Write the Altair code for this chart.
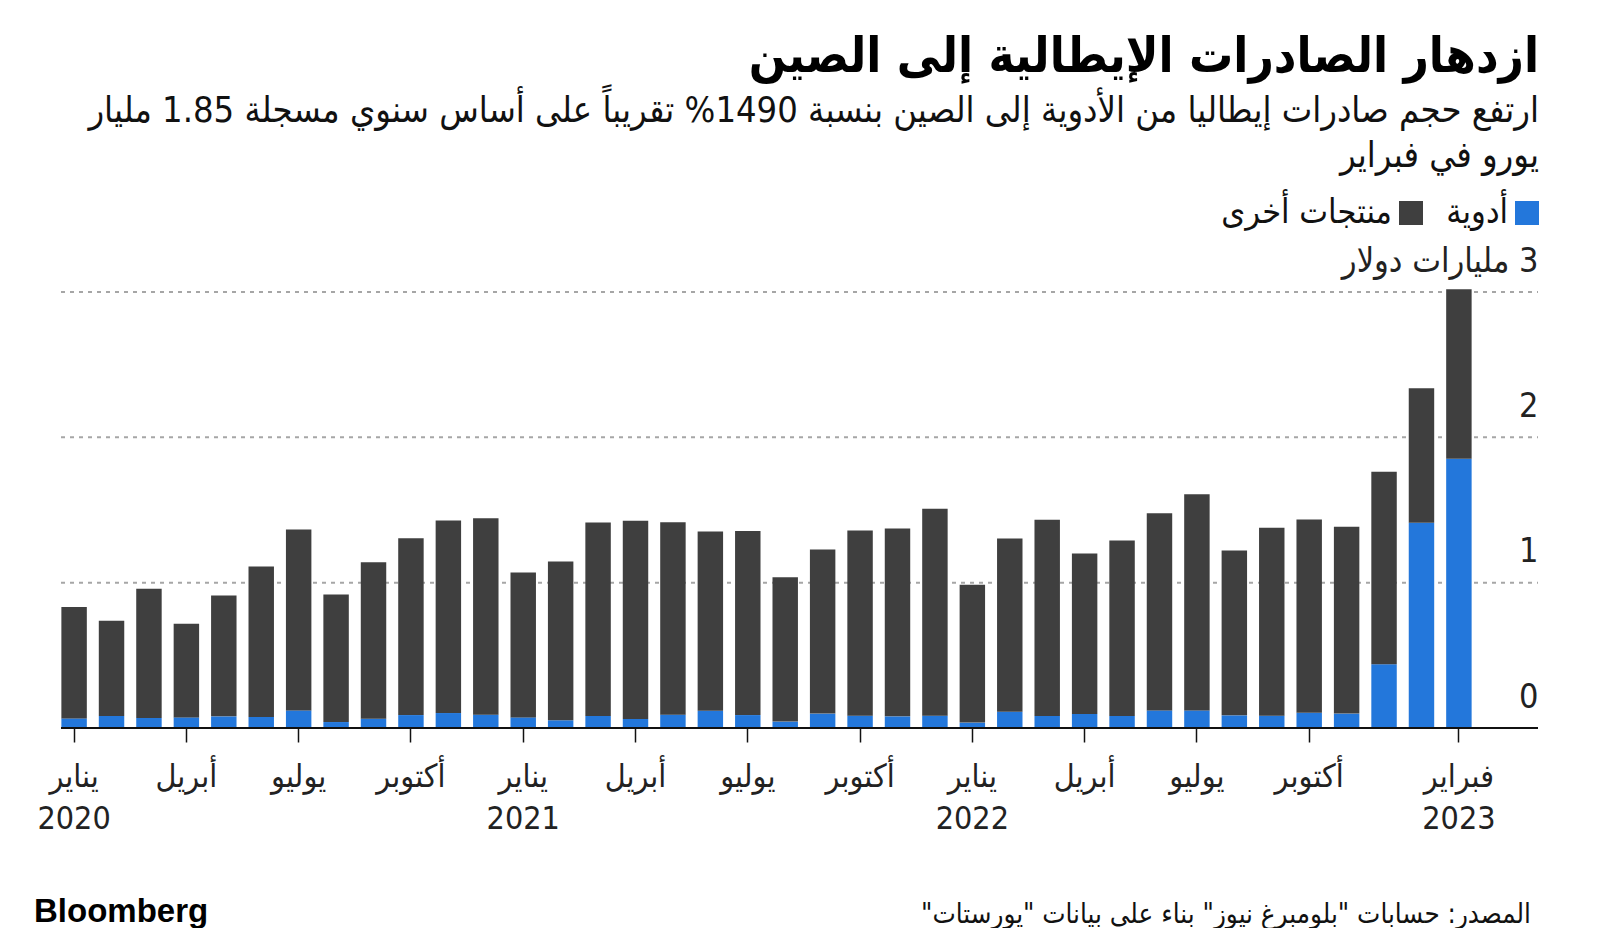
import altair as alt
import pandas as pd

months = [
    "2020-01", "2020-02", "2020-03", "2020-04", "2020-05", "2020-06",
    "2020-07", "2020-08", "2020-09", "2020-10", "2020-11", "2020-12",
    "2021-01", "2021-02", "2021-03", "2021-04", "2021-05", "2021-06",
    "2021-07", "2021-08", "2021-09", "2021-10", "2021-11", "2021-12",
    "2022-01", "2022-02", "2022-03", "2022-04", "2022-05", "2022-06",
    "2022-07", "2022-08", "2022-09", "2022-10", "2022-11", "2022-12",
    "2023-01", "2023-02",
]
medicine = [
    0.066, 0.083, 0.069, 0.073, 0.080, 0.076, 0.121, 0.041, 0.064, 0.089, 0.103, 0.092,
    0.073, 0.053, 0.083, 0.062, 0.092, 0.119, 0.089, 0.044, 0.099, 0.085, 0.080, 0.085,
    0.037, 0.112, 0.083, 0.096, 0.083, 0.121, 0.121, 0.087, 0.085, 0.105, 0.099, 0.438,
    1.412, 1.852,
]
other = [
    0.766, 0.655, 0.889, 0.644, 0.832, 1.036, 1.245, 0.878, 1.077, 1.217, 1.325, 1.352,
    0.997, 1.093, 1.331, 1.364, 1.324, 1.233, 1.266, 0.994, 1.130, 1.274, 1.293, 1.423,
    0.949, 1.192, 1.350, 1.105, 1.207, 1.357, 1.488, 1.135, 1.293, 1.330, 1.285, 1.325,
    0.926, 1.167,
]
cat_med = "أدوية"
cat_other = "منتجات أخرى"

tick_values = [
    "2020-01", "2020-04", "2020-07", "2020-10",
    "2021-01", "2021-04", "2021-07", "2021-10",
    "2022-01", "2022-04", "2022-07", "2022-10",
    "2023-02",
]
tick_labels = [
    ["يناير", "2020"], ["أبريل"], ["يوليو"], ["أكتوبر"],
    ["يناير", "2021"], ["أبريل"], ["يوليو"], ["أكتوبر"],
    ["يناير", "2022"], ["أبريل"], ["يوليو"], ["أكتوبر"],
    ["فبراير", "2023"],
]
y_values = [0, 1, 2, 3]
grid_values = [1, 2, 3]
baseline_values = [0]
y_unit_label = "\u200F3 مليارات دولار"

title_text = "ازدهار الصادرات الإيطالية إلى الصين"
subtitle_lines = [
    "ارتفع حجم صادرات إيطاليا من الأدوية إلى الصين بنسبة 1490% تقريباً على أساس سنوي مسجلة 1.85 مليار",
    "يورو في فبراير",
]
source_text = 'المصدر: حسابات "بلومبرغ نيوز" بناء على بيانات "يورستات"' + "\u200F"
brand_text = "Bloomberg"

FONT = "DejaVu Sans Condensed, DejaVu Sans, sans-serif"
BLUE = "#2377db"
DARK = "#3f3f3f"

W, H = 1411, 436
RIGHT_EXT = 66  # room right of the last bar, under the value labels

df = pd.DataFrame({
    "month": months + months,
    "value": medicine + other,
    "series": [cat_med] * len(months) + [cat_other] * len(months),
    "rank": [0] * len(months) + [1] * len(months),
})


def js(s):
    return "'" + s.replace("'", "\\'") + "'"


expr = ""
for v, lab in zip(tick_values, tick_labels):
    lab_js = "[" + ",".join(js(p) for p in lab) + "]" if len(lab) > 1 else js(lab[0])
    expr += f"datum.value == {js(v)} ? {lab_js} : "
expr += "''"

yscale = alt.Scale(domain=[0, 3], nice=False)


def y_axis():
    return alt.Axis(
        orient="right", values=y_values, title=None, domain=False,
        ticks=False, tickSize=0, labelAlign="right", labelPadding=RIGHT_EXT,
        labelBaseline="alphabetic", labelOffset=-21, labelLimit=400,
        labelFont=FONT, labelFontSize=34, labelColor="#222",
        labelExpr=f"datum.value == 3 ? {js(y_unit_label)} : datum.label",
        grid=False,
    )


grid = alt.Chart(pd.DataFrame({"value": grid_values})).mark_rule(
    color="#a6a6a6", strokeWidth=2, strokeDash=[4, 5],
).encode(
    y=alt.Y("value:Q", scale=yscale, axis=y_axis()),
    x=alt.value(0), x2=alt.value(W + RIGHT_EXT),
)

bars = alt.Chart(df).mark_bar().encode(
    x=alt.X(
        "month:O",
        sort=months,
        scale=alt.Scale(domain=months, paddingInner=0.32, paddingOuter=0.01),
        axis=alt.Axis(
            values=tick_values, labelExpr=expr, title=None, domain=False,
            ticks=True, tickSize=14, tickColor="#111", tickWidth=1.5,
            labelFont=FONT, labelFontSize=32, labelLineHeight=42, labelColor="#222",
            labelBaseline="top", labelPadding=19, labelAngle=0, labelOverlap=False,
            grid=False,
        ),
    ),
    y=alt.Y("value:Q", stack="zero", scale=yscale, axis=y_axis()),
    color=alt.Color(
        "series:N",
        scale=alt.Scale(domain=[cat_other, cat_med], range=[DARK, BLUE]),
        legend=alt.Legend(
            orient="none", legendX=1333, legendY=-96, direction="horizontal",
            title=None, symbolType="square", symbolSize=576, symbolStrokeWidth=0,
            symbolOpacity=1, labelFont=FONT, labelFontSize=34, labelColor="#111",
            labelAlign="right", labelOffset={"expr": "-36"}, columnPadding=23,
            labelLimit=400,
        ),
    ),
    order=alt.Order("rank:Q", sort="ascending"),
)

baseline = alt.Chart(pd.DataFrame({"value": baseline_values})).mark_rule(
    color="#111111", strokeWidth=2,
).encode(
    y=alt.Y("value:Q", scale=yscale, axis=y_axis()),
    x=alt.value(0), x2=alt.value(W + RIGHT_EXT),
)

brand = alt.Chart(pd.DataFrame({"t": [brand_text]})).mark_text(
    font="Liberation Sans", fontSize=33, fontWeight="bold", align="left",
    baseline="alphabetic", color="#000",
).encode(x=alt.value(-27), y=alt.value(630), text="t:N")

source = alt.Chart(pd.DataFrame({"t": [source_text]})).mark_text(
    font=FONT, fontSize=27.5, align="right", baseline="middle", color="#111",
).encode(x=alt.value(W + 59), y=alt.value(623), text="t:N")

chart = alt.layer(grid, bars, baseline, brand, source).properties(
    width=W, height=H,
    title=alt.TitleParams(
        text=title_text, subtitle=subtitle_lines, anchor="end",
        font=FONT, fontSize=49, fontWeight="bold", color="#000",
        subtitleFont=FONT, subtitleFontSize=36, subtitleColor="#111",
        subtitleLineHeight=45, subtitlePadding=12, offset=22,
    ),
    autosize=alt.AutoSizeParams(type="none"),
    padding={"left": 53, "top": 284, "right": 100, "bottom": 200},
).configure(background="white").configure_view(stroke=None)

chart.save("out.html", embed_options={"renderer": "svg", "actions": False})
